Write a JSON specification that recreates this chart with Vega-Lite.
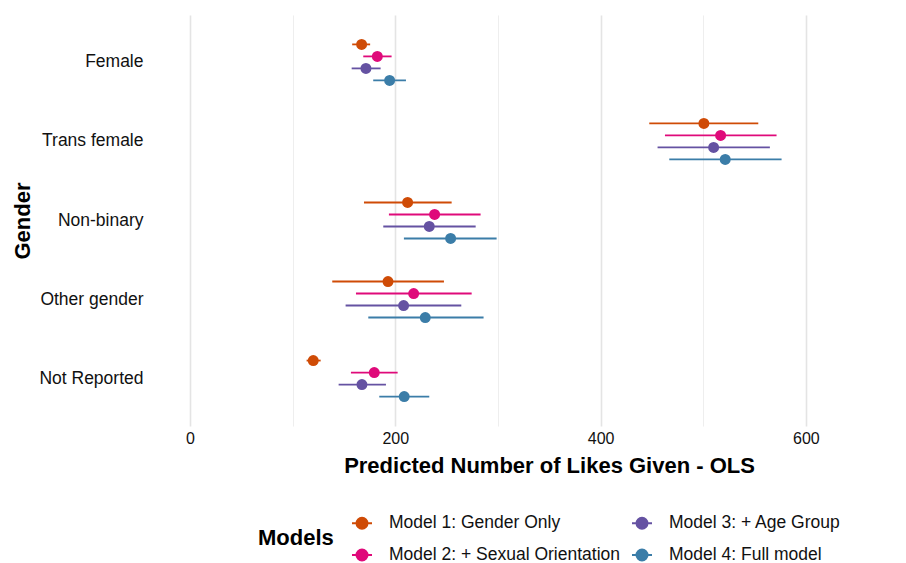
{
  "$schema": "https://vega.github.io/schema/vega-lite/v6.json",
  "width": 746,
  "height": 411,
  "autosize": {"type": "none"},
  "padding": {"left": 160, "top": 15, "right": 0, "bottom": 137},
  "background": "white",
  "config": {
    "view": {"stroke": null},
    "font": "Liberation Sans",
    "axis": {"labelFont": "Liberation Sans", "titleFont": "Liberation Sans"},
    "legend": {"labelFont": "Liberation Sans", "titleFont": "Liberation Sans"}
  },
  "data": {
    "values": [
      {"gender": "Female", "model": "Model 1: Gender Only", "est": 167.2, "lo": 158.0, "hi": 175.5},
      {"gender": "Female", "model": "Model 2: + Sexual Orientation", "est": 182.5, "lo": 168.8, "hi": 196.4},
      {"gender": "Female", "model": "Model 3: + Age Group", "est": 171.4, "lo": 157.5, "hi": 185.7},
      {"gender": "Female", "model": "Model 4: Full model", "est": 194.5, "lo": 178.5, "hi": 210.4},
      {"gender": "Trans female", "model": "Model 1: Gender Only", "est": 500.6, "lo": 447.4, "hi": 553.6},
      {"gender": "Trans female", "model": "Model 2: + Sexual Orientation", "est": 516.9, "lo": 462.7, "hi": 571.4},
      {"gender": "Trans female", "model": "Model 3: + Age Group", "est": 510.1, "lo": 455.5, "hi": 564.9},
      {"gender": "Trans female", "model": "Model 4: Full model", "est": 521.4, "lo": 466.9, "hi": 576.3},
      {"gender": "Non-binary", "model": "Model 1: Gender Only", "est": 212.0, "lo": 169.5, "hi": 254.9},
      {"gender": "Non-binary", "model": "Model 2: + Sexual Orientation", "est": 238.3, "lo": 193.8, "hi": 283.1},
      {"gender": "Non-binary", "model": "Model 3: + Age Group", "est": 233.1, "lo": 188.3, "hi": 278.3},
      {"gender": "Non-binary", "model": "Model 4: Full model", "est": 253.9, "lo": 208.4, "hi": 298.7},
      {"gender": "Other gender", "model": "Model 1: Gender Only", "est": 192.9, "lo": 138.6, "hi": 247.4},
      {"gender": "Other gender", "model": "Model 2: + Sexual Orientation", "est": 217.9, "lo": 161.7, "hi": 274.4},
      {"gender": "Other gender", "model": "Model 3: + Age Group", "est": 208.1, "lo": 151.6, "hi": 264.3},
      {"gender": "Other gender", "model": "Model 4: Full model", "est": 229.2, "lo": 173.7, "hi": 286.0},
      {"gender": "Not Reported", "model": "Model 1: Gender Only", "est": 120.1, "lo": 113.6, "hi": 127.3},
      {"gender": "Not Reported", "model": "Model 2: + Sexual Orientation", "est": 179.5, "lo": 156.8, "hi": 202.3},
      {"gender": "Not Reported", "model": "Model 3: + Age Group", "est": 167.5, "lo": 144.8, "hi": 190.9},
      {"gender": "Not Reported", "model": "Model 4: Full model", "est": 208.7, "lo": 184.4, "hi": 233.1}
    ]
  },
  "encoding": {
    "y": {
      "field": "gender",
      "type": "nominal",
      "sort": ["Female", "Trans female", "Non-binary", "Other gender", "Not Reported"],
      "scale": {"paddingInner": 0, "paddingOuter": 0.1},
      "axis": {
        "title": "Gender",
        "domain": false,
        "ticks": false,
        "grid": false,
        "labelFontSize": 17.5,
        "labelColor": "#111111",
        "labelPadding": 17,
        "titleFontSize": 22,
        "titleFontWeight": "bold",
        "titleColor": "#000000",
        "titleX": -138,
        "titleY": 205.5,
        "titleBaseline": "middle",
        "titleAngle": -90
      }
    },
    "yOffset": {
      "field": "model",
      "type": "nominal",
      "sort": ["Model 1: Gender Only", "Model 2: + Sexual Orientation", "Model 3: + Age Group", "Model 4: Full model"],
      "scale": {"paddingInner": 0, "paddingOuter": 0, "range": [15.5, 63.5]}
    },
    "color": {
      "field": "model",
      "type": "nominal",
      "scale": {
        "domain": ["Model 1: Gender Only", "Model 3: + Age Group", "Model 2: + Sexual Orientation", "Model 4: Full model"],
        "range": ["#CF4B06", "#6552A2", "#DF0A7A", "#3B7DA8"]
      },
      "legend": {
        "title": "Models",
        "orient": "none",
        "legendX": 98,
        "legendY": 497,
        "direction": "horizontal",
        "columns": 2,
        "titleOrient": "left",
        "titleFontSize": 22,
        "titleFontWeight": "bold",
        "titleColor": "#000000",
        "titleAnchor": "middle",
        "titleBaseline": "middle",
        "titlePadding": 17,
        "labelFontSize": 17.5,
        "labelColor": "#111111",
        "labelLimit": 0,
        "labelOffset": 16,
        "columnPadding": 7,
        "rowPadding": 11,
        "symbolType": "M-1,0L1,0M-0.55,0A0.55,0.55,0,1,1,0.55,0A0.55,0.55,0,1,1,-0.55,0Z",
        "symbolSize": 400,
        "symbolStrokeWidth": 2
      }
    }
  },
  "layer": [
    {
      "mark": {"type": "rule", "strokeWidth": 1.8},
      "encoding": {
        "x": {
          "field": "lo",
          "type": "quantitative",
          "scale": {"domain": [-29.2, 697.5], "zero": false, "nice": false},
          "axis": {
            "title": "Predicted Number of Likes Given - OLS",
            "values": [0, 100, 200, 300, 400, 500, 600],
            "labelExpr": "datum.value % 200 === 0 ? datum.label : ''",
            "domain": false,
            "ticks": false,
            "grid": true,
            "gridColor": {"condition": {"test": "datum.value % 200 === 0", "value": "#E4E4E4"}, "value": "#EEEEEE"},
            "gridWidth": {"condition": {"test": "datum.value % 200 === 0", "value": 1.6}, "value": 1.1},
            "labelFontSize": 16,
            "labelColor": "#111111",
            "labelPadding": 4,
            "titleFontSize": 22,
            "titleFontWeight": "bold",
            "titleColor": "#000000",
            "titleX": 389,
            "titleY": 39,
            "titleBaseline": "middle"
          }
        },
        "x2": {"field": "hi"}
      }
    },
    {
      "mark": {"type": "point", "filled": true, "opacity": 1, "size": 120},
      "encoding": {
        "x": {"field": "est", "type": "quantitative"}
      }
    }
  ]
}
